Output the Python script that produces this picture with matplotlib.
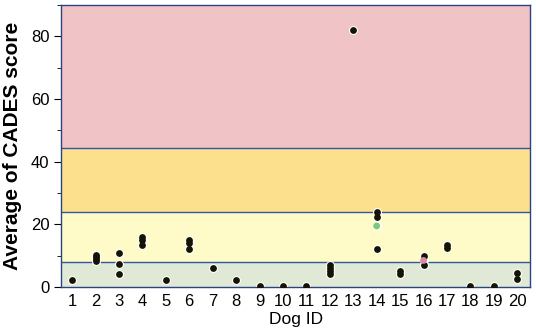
import matplotlib
matplotlib.use("Agg")
import matplotlib.pyplot as plt
from matplotlib.ticker import MultipleLocator

plt.rcParams["font.family"] = ["Liberation Sans", "DejaVu Sans"]

# dog id and average CADES score for each observation
dog_ids = [1, 2, 2, 2, 2, 3, 3, 3, 4, 4, 4, 5, 6, 6, 6, 7, 8, 9, 10, 11,
           12, 12, 12, 12, 13, 14, 14, 14, 15, 15, 16, 16, 17, 17, 18, 19, 20, 20]
scores = [2.2, 8.2, 9.0, 9.6, 10.2, 11.0, 7.4, 4.2, 13.4, 15.0, 16.0, 2.2, 12.2, 14.0, 15.0,
          6.0, 2.2, 0.2, 0.2, 0.2,
          4.2, 5.2, 6.2, 7.0, 82.0, 24.0, 22.5, 12.2, 4.2, 5.2, 10.0, 7.2, 12.5, 13.5,
          0.2, 0.2, 4.5, 2.5]
# coloured extra points
extra_ids = [14, 16]
extra_scores = [19.5, 8.5]
extra_colors = ["#7dc97a", "#d98aa0"]

# severity bands (lower, upper, colour)
band_edges = [0, 8, 24, 44.5, 90]
band_colors = ["#dfe9d6", "#fefbc8", "#fde08e", "#f0c4c6"]

fig = plt.figure(figsize=(5.36, 3.35), dpi=100)
ax = fig.add_axes([0.114, 0.143, 0.875, 0.842])

for lo, hi, c in zip(band_edges[:-1], band_edges[1:], band_colors):
    ax.axhspan(lo, hi, color=c, zorder=0, lw=0)
for y in band_edges[1:-1]:
    ax.axhline(y, color="#3356a0", lw=1.0, zorder=1)

# white halo underneath, then dots on top so clusters merge into blobs
all_ids = dog_ids + extra_ids
all_scores = scores + extra_scores
ax.scatter(all_ids, all_scores, s=42, color="white", lw=0, zorder=2)
ax.scatter(dog_ids, scores, s=24, color="#141405", lw=0, zorder=3)
ax.scatter(extra_ids, extra_scores, s=24, color=extra_colors, lw=0, zorder=4)

ax.set_xlim(0.53, 20.55)
ax.set_ylim(0, 90)
ax.set_xticks(range(1, 21))
ax.tick_params(axis="x", length=0, labelsize=12, pad=5)
ax.yaxis.set_major_locator(MultipleLocator(20))
ax.yaxis.set_minor_locator(MultipleLocator(10))
ax.tick_params(axis="y", which="major", length=5, labelsize=12)
ax.tick_params(axis="y", which="minor", length=3)

for sp in ax.spines.values():
    sp.set_color("#2a4480")
    sp.set_linewidth(1.0)

ax.set_ylabel("Average of CADES score", fontsize=15, fontweight="bold", labelpad=6)
ax.set_xlabel("Dog ID", fontsize=12.5, labelpad=2)

plt.savefig("out.png", dpi=100)
plt.close()
